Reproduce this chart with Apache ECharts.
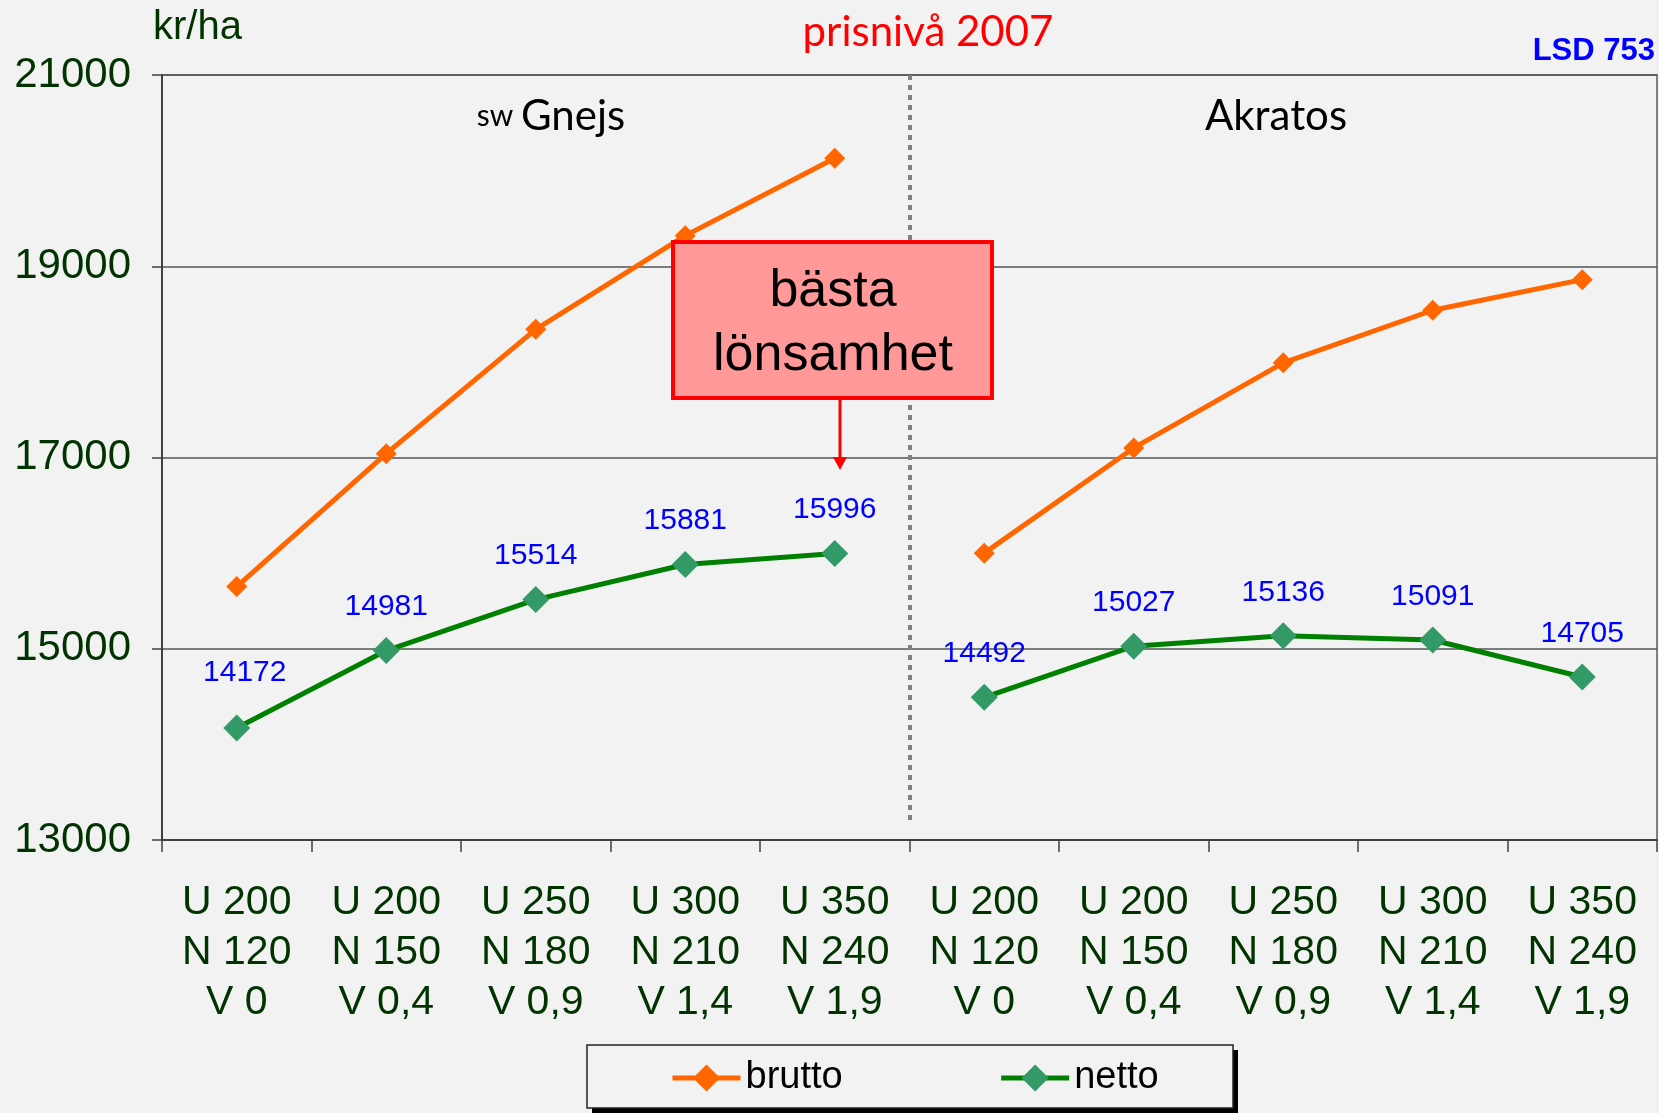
<!DOCTYPE html>
<html>
<head>
<meta charset="utf-8">
<script src="https://cdn.jsdelivr.net/npm/echarts@6/dist/echarts.min.js"></script>
<style>
html,body{margin:0;padding:0;background:#F2F2F2;}
#chart{width:1659px;height:1113px;}
</style>
</head>
<body>
<div id="chart"></div>
<script>
var categories = [
  'U 200\nN 120\nV 0', 'U 200\nN 150\nV 0,4', 'U 250\nN 180\nV 0,9', 'U 300\nN 210\nV 1,4', 'U 350\nN 240\nV 1,9',
  'U 200\nN 120\nV 0', 'U 200\nN 150\nV 0,4', 'U 250\nN 180\nV 0,9', 'U 300\nN 210\nV 1,4', 'U 350\nN 240\nV 1,9'
];
var bruttoGnejs = [15650, 17040, 18340, 19320, 20130];
var bruttoAkratos = [16000, 17100, 17990, 18540, 18860];
var nettoGnejs = [14172, 14981, 15514, 15881, 15996];
var nettoAkratos = [14492, 15027, 15136, 15091, 14705];
var yTicks = [13000, 15000, 17000, 19000, 21000];

function pad(arr, first) {
  var nulls = arr.map(function(){ return null; });
  return first ? arr.concat(nulls) : nulls.concat(arr);
}

var chart = echarts.init(document.getElementById('chart'));
var labelFont = 'Arial, "Liberation Sans", sans-serif';
var calFont = 'Lato, "Open Sans", sans-serif';

function bruttoSeries(data) {
  return {
    name: 'brutto', type: 'line', data: data, connectNulls: false,
    symbol: 'diamond', symbolSize: 21,
    lineStyle: {color: '#FF6600', width: 5},
    itemStyle: {color: '#FF6600'},
    emphasis: {disabled: true}, z: 3
  };
}
function nettoSeries(data) {
  return {
    name: 'netto', type: 'line', data: data, connectNulls: false,
    symbol: 'diamond', symbolSize: 27,
    lineStyle: {color: '#008000', width: 5},
    itemStyle: {color: '#339966'},
    label: {show: true, position: 'top', distance: 15, color: '#0000FF', fontSize: 30, fontFamily: labelFont},
    emphasis: {disabled: true}, z: 4
  };
}

var nettoGnejsData = pad(nettoGnejs, true).map(function (v, i) {
  if (i === 0) return {value: v, label: {offset: [8, -12]}};
  return v;
});

chart.setOption({
  backgroundColor: '#F2F2F2',
  animation: false,
  grid: {left: 162, right: 2, top: 75, bottom: 273, show: true, borderColor: '#808080', borderWidth: 2, backgroundColor: 'transparent'},
  legend: {
    data: ['brutto', 'netto'],
    left: 582, top: 1045,
    padding: [14, 88],
    itemGap: 156, itemWidth: 68, itemHeight: 34,
    lineStyle: {width: 5},
    textStyle: {fontSize: 38, color: '#000', fontFamily: labelFont}
  },
  xAxis: [{
    type: 'category', data: categories, boundaryGap: true,
    axisLine: {lineStyle: {color: '#404040', width: 2}},
    axisTick: {show: true, interval: 0, length: 12, lineStyle: {color: '#404040', width: 1.5}},
    axisLabel: {interval: 0, margin: 38, color: '#003300', fontSize: 41, lineHeight: 50, fontFamily: labelFont},
    splitLine: {show: false}
  }, {
    type: 'value', min: 0, max: 10, show: false
  }],
  yAxis: {
    type: 'value', min: yTicks[0], max: yTicks[yTicks.length - 1], interval: 2000,
    axisLine: {show: true, lineStyle: {color: '#404040', width: 2}},
    axisTick: {show: true, length: 10, lineStyle: {color: '#404040', width: 1.5}},
    axisLabel: {margin: 31, color: '#003300', fontSize: 42, fontFamily: labelFont, formatter: function (v) { return String(v); }},
    splitLine: {show: true, lineStyle: {color: '#555', width: 1.5}}
  },
  series: [
    bruttoSeries(pad(bruttoGnejs, true)),
    bruttoSeries(pad(bruttoAkratos, false)),
    nettoSeries(nettoGnejsData),
    nettoSeries(pad(nettoAkratos, false)),
    {
      name: 'divider', type: 'line', xAxisIndex: 1, data: [], silent: true,
      markLine: {
        silent: true, symbol: 'none', label: {show: false},
        lineStyle: {color: '#808080', width: 4, type: [5, 5]},
        data: [[{coord: [5, 21000]}, {coord: [5, 13200]}]]
      }
    }
  ],
  graphic: [
    {type: 'rect', shape: {x: 592, y: 1050, width: 646, height: 63}, style: {fill: '#000'}, z: -2, silent: true},
    {type: 'rect', shape: {x: 587, y: 1045, width: 646, height: 63}, style: {fill: '#F2F2F2', stroke: '#222', lineWidth: 1.5}, z: -1, silent: true},
    {type: 'text', left: 153, top: 8, style: {text: 'kr/ha', fontSize: 40, fill: '#003300', fontFamily: labelFont}},
    {type: 'text', x: 928, y: 32, style: {text: 'prisnivå 2007', fontSize: 42, fill: '#FF0000', fontFamily: calFont, textAlign: 'center', textVerticalAlign: 'middle'}},
    {type: 'text', x: 1655, y: 51, style: {text: 'LSD 753', fontSize: 31, fontWeight: 'bold', fill: '#0000FF', fontFamily: labelFont, textAlign: 'right', textVerticalAlign: 'middle'}},
    {type: 'text', x: 551, y: 116, style: {rich: {s: {fontSize: 30, fontFamily: calFont, fill: '#000'}, g: {fontSize: 42, fontFamily: calFont, fill: '#000'}}, text: '{s|sw }{g|Gnejs}', textAlign: 'center', textVerticalAlign: 'middle'}},
    {type: 'text', x: 1276, y: 116, style: {text: 'Akratos', fontSize: 42, fontFamily: calFont, fill: '#000', textAlign: 'center', textVerticalAlign: 'middle'}},
    {type: 'rect', shape: {x: 673, y: 242, width: 319, height: 156}, style: {fill: '#FF9999', stroke: '#FF0000', lineWidth: 4}, z: 10},
    {type: 'text', x: 833, y: 324, style: {text: 'bästa\nlönsamhet', fontSize: 52, lineHeight: 64, fill: '#000', fontFamily: labelFont, textAlign: 'center', textVerticalAlign: 'middle'}, z: 11},
    {type: 'line', shape: {x1: 840, y1: 400, x2: 840, y2: 460}, style: {stroke: '#FF0000', lineWidth: 3}, z: 10},
    {type: 'polygon', shape: {points: [[833, 457], [847, 457], [840, 470]]}, style: {fill: '#FF0000'}, z: 10}
  ]
});
</script>
</body>
</html>
